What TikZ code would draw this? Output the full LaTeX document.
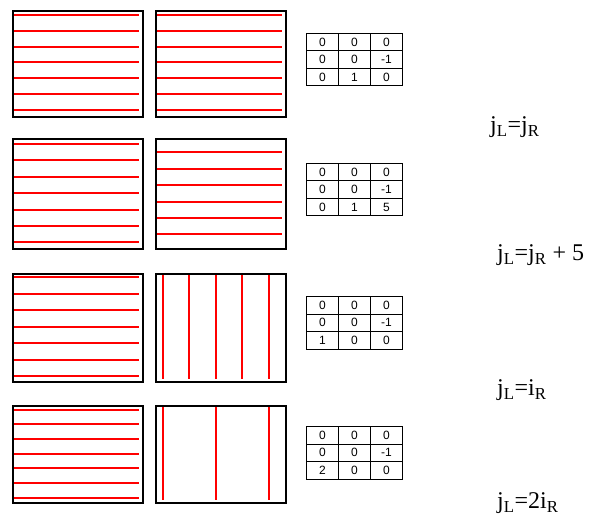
\documentclass[tikz,border=0pt]{standalone}
\usepackage{fontspec}
\setmainfont{Liberation Serif}
\newfontfamily\cellfont{Liberation Sans}
\usetikzlibrary{matrix,positioning}
\definecolor{wireRed}{HTML}{FF0000}
\tikzset{
  frame/.style={draw=black, line width=2pt, minimum width=130pt, inner sep=0pt, anchor=north west},
  wire/.style={draw=wireRed, line width=2pt},
  vwire/.style={draw=wireRed, line width=2.4pt},
  coef/.style={matrix of nodes, column sep=-0.7pt, row sep=-0.7pt, anchor=north west,
    inner sep=0pt, outer sep=0pt,
    nodes={draw, line width=0.7pt, minimum width=32pt, minimum height=17.5pt, inner sep=0pt,
      text height=8.6pt, text depth=0pt, anchor=center,
      font=\cellfont\fontsize{12}{12}\selectfont}},
  rel/.style={anchor=west, inner sep=0pt, font=\fontsize{24}{24}\selectfont}
}

\begin{document}
\begin{tikzpicture}[x=1pt, y=-1pt]
\useasboundingbox[fill=white] (0,0) rectangle (601,518);
% row 1: j_L = j_R
\node[frame, minimum height=106pt] (L1) at (12,10) {};
\node[frame, minimum height=106pt] (R1) at (155,10) {};
\foreach \k in {0,...,6} {
  \draw[wire] (14,{15+15.8*\k}) -- (139,{15+15.8*\k});
  \draw[wire] (157,{15+15.8*\k}) -- (282,{15+15.8*\k});
}
\matrix[coef] (M1) at (306,33) {0 & 0 & 0\\ 0 & 0 & -1\\ 0 & 1 & 0\\};
\node[rel] (eq1) at (490,127) {j\textsubscript{L}=j\textsubscript{R}};
% row 2: shifted by 5
\node[frame, minimum height=110pt] (L2) at (12,138) {};
\node[frame, minimum height=110pt] (R2) at (155,138) {};
\foreach \k in {0,...,6}
  \draw[wire] (14,{144+16.4*\k}) -- (139,{144+16.4*\k});
\foreach \k in {0,...,5}
  \draw[wire] (157,{152.5+16.4*\k}) -- (282,{152.5+16.4*\k});
\matrix[coef] (M2) at (306,163) {0 & 0 & 0\\ 0 & 0 & -1\\ 0 & 1 & 5\\};
\node[rel] (eq2) at (497,255) {j\textsubscript{L}=j\textsubscript{R} + 5};
% row 3: transposed
\node[frame, minimum height=108pt] (L3) at (12,272.5) {};
\node[frame, minimum height=108pt] (R3) at (155,272.5) {};
\foreach \k in {0,...,6}
  \draw[wire] (14,{277+16.5*\k}) -- (139,{277+16.5*\k});
\foreach \k in {0,...,4}
  \draw[vwire] ({162.7+26.5*\k},275) -- ({162.7+26.5*\k},379);
\matrix[coef] (M3) at (306,296) {0 & 0 & 0\\ 0 & 0 & -1\\ 1 & 0 & 0\\};
\node[rel] (eq3) at (497,390) {j\textsubscript{L}=i\textsubscript{R}};
% row 4: stride 2
\node[frame, minimum height=97pt] (L4) at (12,405) {};
\node[frame, minimum height=97pt] (R4) at (155,405) {};
\foreach \k in {0,...,6}
  \draw[wire] (14,{409.5+14.7*\k}) -- (139,{409.5+14.7*\k});
\foreach \k in {0,...,2}
  \draw[vwire] ({162.7+53*\k},407) -- ({162.7+53*\k},500);
\matrix[coef] (M4) at (306,426) {0 & 0 & 0\\ 0 & 0 & -1\\ 2 & 0 & 0\\};
\node[rel] (eq4) at (497,503.5) {j\textsubscript{L}=2i\textsubscript{R}};
\end{tikzpicture}
\end{document}
